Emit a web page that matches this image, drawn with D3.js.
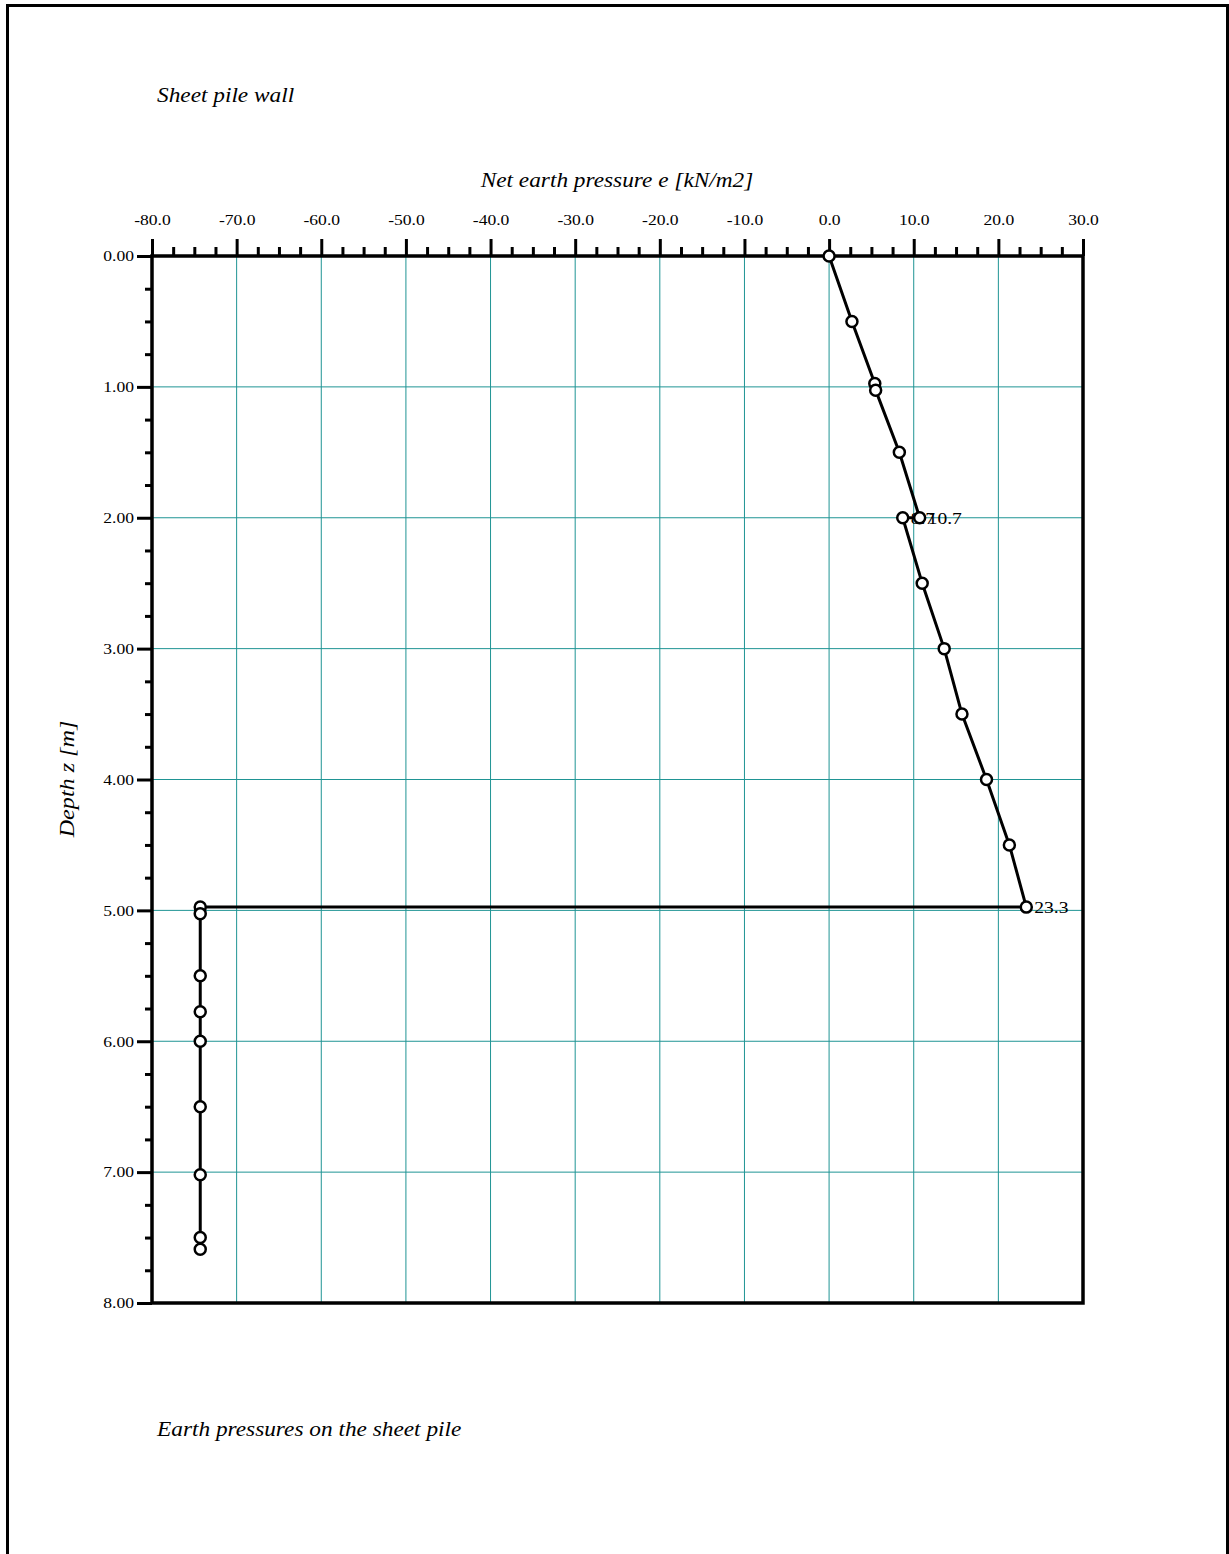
<!DOCTYPE html>
<html><head><meta charset="utf-8">
<script src="https://cdn.jsdelivr.net/npm/d3@7"></script>
<style>body{margin:0;background:#fff}svg{display:block}text{font-family:"Liberation Serif","Times New Roman",serif;fill:#000}</style>
</head><body>
<script>
// Data
const pressureRight = [0.0, 2.7, 5.4, 5.5, 8.3, 10.7, 8.7, 11.0, 13.6, 15.7, 18.6, 21.3, 23.3];
const depthRight    = [0.0, 0.5, 0.975, 1.025, 1.5, 2.0, 2.0, 2.5, 3.0, 3.5, 4.0, 4.5, 4.975];
const pressureLeft  = [-74.3, -74.3, -74.3, -74.3, -74.3, -74.3, -74.3, -74.3, -74.3];
const depthLeft     = [4.975, 5.025, 5.5, 5.775, 6.0, 6.5, 7.02, 7.5, 7.59];
const valueLabels   = [{e: 8.7, z: 2.0, t: "8.7"}, {e: 10.7, z: 2.0, t: "10.7"}, {e: 23.3, z: 4.975, t: "23.3"}];
const xTicks = [-80, -70, -60, -50, -40, -30, -20, -10, 0, 10, 20, 30];
const yTicks = [0, 1, 2, 3, 4, 5, 6, 7, 8];
const titleTop = "Sheet pile wall";
const titleBottom = "Earth pressures on the sheet pile";
const xTitle = "Net earth pressure e [kN/m2]";
const yTitle = "Depth z [m]";

const W = 1229, H = 1554;
const svg = d3.select("body").append("svg").attr("width", W).attr("height", H);
const x = d3.scaleLinear().domain([-80, 30]).range([152, 1083]);
const y = d3.scaleLinear().domain([0, 8]).range([256, 1303]);
const fmtX = d => d3.format(".1f")(d).replace("\u2212", "-");
const fmtY = d => d3.format(".2f")(d).replace("\u2212", "-");

// page frame
svg.append("path").attr("d", `M1227.5,${H} V5.5 H7.5 V${H}`).attr("fill", "none").attr("stroke", "#000").attr("stroke-width", 3);

// grid
const grid = svg.append("g").attr("stroke", "#1f9494").attr("stroke-width", 1);
grid.selectAll("line.v").data(xTicks.filter(d => d > -80 && d < 30)).join("line")
  .attr("x1", d => x(d)).attr("x2", d => x(d)).attr("y1", y(0)).attr("y2", y(8));
grid.selectAll("line.h").data(yTicks.filter(d => d > 0 && d < 8)).join("line")
  .attr("y1", d => y(d)).attr("y2", d => y(d)).attr("x1", x(-80)).attr("x2", x(30));

// minor ticks
const xMinor = d3.range(-80, 30.01, 2.5).filter(d => Math.abs(d % 10) > 0.01);
const yMinor = d3.range(0, 8.001, 0.25).filter(d => Math.abs(d % 1) > 0.01);
const gxm = svg.append("g").attr("transform", `translate(0,${y(0)})`)
  .call(d3.axisTop(x).tickValues(xMinor).tickSize(9).tickFormat(""));
const gym = svg.append("g").attr("transform", `translate(${x(-80)},0)`)
  .call(d3.axisLeft(y).tickValues(yMinor).tickSize(7).tickFormat(""));
[gxm, gym].forEach(g => { g.select(".domain").remove(); g.selectAll("line").attr("stroke-width", 3); });

// major axes
const gx = svg.append("g").attr("transform", `translate(0,${y(0)})`)
  .call(d3.axisTop(x).tickValues(xTicks).tickSize(17).tickPadding(14).tickFormat(fmtX));
const gy = svg.append("g").attr("transform", `translate(${x(-80)},0)`)
  .call(d3.axisLeft(y).tickValues(yTicks).tickSize(15).tickPadding(3).tickFormat(fmtY));
[gx, gy].forEach(g => {
  g.select(".domain").remove();
  g.selectAll("line").attr("stroke-width", 3);
  g.selectAll("text").style("font-family", '"Liberation Serif",serif').style("font-size", "15px");
});
gx.selectAll("text").attr("transform", "scale(1.17,1)");
gy.selectAll("text").each(function() {
  const t = d3.select(this); const x0 = +t.attr("x");
  t.attr("x", 0).attr("transform", `translate(${x0},0) scale(1.17,1)`);
});

// plot box
svg.append("rect").attr("x", x(-80)).attr("y", y(0)).attr("width", x(30) - x(-80)).attr("height", y(8) - y(0))
  .attr("fill", "none").attr("stroke", "#000").attr("stroke-width", 3.5);

// data line
const pts = pressureRight.map((e, i) => [e, depthRight[i]])
  .concat(pressureLeft.map((e, i) => [e, depthLeft[i]]));
svg.append("path").datum(pts)
  .attr("d", d3.line().x(d => x(d[0])).y(d => y(d[1])))
  .attr("fill", "none").attr("stroke", "#000").attr("stroke-width", 3).attr("stroke-linejoin", "round");

// value labels (under the markers)
svg.append("g").selectAll("text").data(valueLabels).join("text")
  .attr("transform", d => `translate(${x(d.e) + 8},${y(d.z)}) scale(1.15,1)`).attr("dy", "0.35em")
  .style("font-size", "17px").text(d => d.t);

svg.append("g").selectAll("circle").data(pts).join("circle")
  .attr("cx", d => x(d[0])).attr("cy", d => y(d[1])).attr("r", 5.5)
  .attr("fill", "#fff").attr("stroke", "#000").attr("stroke-width", 2.5);

// titles
function title(txt, tx, ty, rot, anchor, sx) {
  svg.append("text").attr("transform", `translate(${tx},${ty}) rotate(${rot}) scale(${sx},1)`)
    .attr("text-anchor", anchor).style("font-style", "italic").style("font-size", "21px").text(txt);
}
title(titleTop, 157, 102, 0, "start", 1.11);
title(xTitle, 617, 187, 0, "middle", 1.11);
title(yTitle, 74, 779, -90, "middle", 1.15);
title(titleBottom, 157, 1436, 0, "start", 1.11);
</script>
</body></html>
